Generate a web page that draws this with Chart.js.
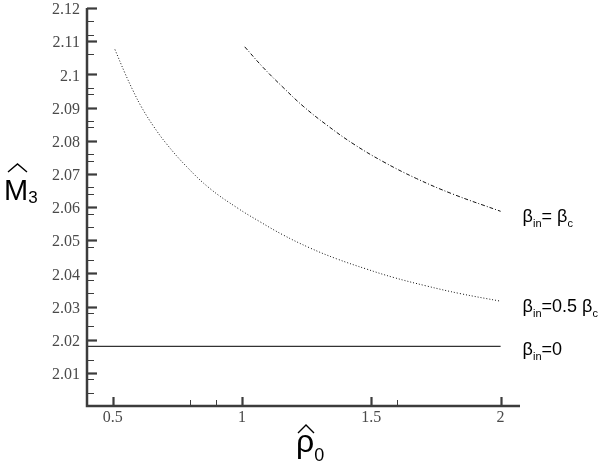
<!DOCTYPE html>
<html><head><meta charset="utf-8">
<script src="https://cdn.jsdelivr.net/npm/chart.js@4"></script>
<style>html,body{margin:0;padding:0;background:#fff}#w{width:600px;height:468px}</style>
</head><body><div id="w"><canvas id="c" width="600" height="468"></canvas></div>
<script>
// Data
const rhoHigh = [1.01, 1.081, 1.158, 1.236, 1.326, 1.429, 1.545, 1.674, 1.815, 2.0];
const mHigh   = [2.1083, 2.1021, 2.0961, 2.0904, 2.0848, 2.0791, 2.0737, 2.0686, 2.0639, 2.0587];
const rhoHalf = [0.508, 0.546, 0.578, 0.611, 0.656, 0.708, 0.785, 0.875, 0.984, 1.068, 1.158, 1.261, 1.365, 1.481, 1.584, 1.713, 1.843, 2.0];
const mHalf   = [2.1075, 2.1005, 2.0951, 2.0901, 2.0845, 2.0790, 2.0722, 2.0656, 2.0596, 2.0556, 2.0516, 2.0477, 2.0444, 2.0413, 2.0388, 2.0362, 2.0339, 2.0316];
const rhoZero = [0.4, 2.0];
const mZero   = [2.018, 2.018];
const xMajor = [0.5, 1, 1.5, 2];
const xMajorLabels = ['0.5', '1', '1.5', '2'];
const xMinor = [0.8, 0.9, 1.6];
const yMajor = [2.01, 2.02, 2.03, 2.04, 2.05, 2.06, 2.07, 2.08, 2.09, 2.1, 2.11, 2.12];
const yMajorLabels = ['2.01','2.02','2.03','2.04','2.05','2.06','2.07','2.08','2.09','2.1','2.11','2.12'];
const yMinor = [2.116, 2.112, 2.106, 2.096, 2.094, 2.086, 2.084, 2.076, 2.074, 2.066, 2.064, 2.058, 2.054, 2.048, 2.044, 2.038, 2.034, 2.028, 2.024, 2.014, 2.008, 2.004];

const pts = (xs, ys) => xs.map((x, i) => ({x, y: ys[i]}));

const AX = '#3c3c3c';
const SANS = '"Liberation Sans", Arial, sans-serif';
const SERIF = '"Liberation Serif", "DejaVu Serif", serif';

function rich(ctx, x, y, parts) {
  let cx = x;
  parts.forEach(p => {
    ctx.font = p.size + 'px ' + SANS;
    ctx.fillText(p.t, cx, y + (p.dy || 0));
    cx += ctx.measureText(p.t).width + (p.gap || 0);
  });
}
function hat(ctx, x0, x1, yb, h) {
  ctx.beginPath();
  ctx.moveTo(x0, yb); ctx.lineTo((x0 + x1) / 2, yb - h); ctx.lineTo(x1, yb);
  ctx.lineWidth = 1.4; ctx.strokeStyle = '#000'; ctx.stroke();
}

const axesPlugin = {
  id: 'tecAxes',
  afterDatasetsDraw(chart) {
    const ctx = chart.ctx, xs = chart.scales.x, ys = chart.scales.y;
    const L = xs.left, R = xs.right, T = ys.top, B = ys.bottom;
    ctx.save();
    ctx.strokeStyle = AX; ctx.fillStyle = AX;
    // axis lines
    ctx.lineWidth = 2.5;
    ctx.beginPath(); ctx.moveTo(L, T); ctx.lineTo(L, B); ctx.lineTo(R, B); ctx.stroke();
    // y ticks
    ctx.lineWidth = 2.2;
    yMajor.forEach(v => { const p = Math.round(ys.getPixelForValue(v)) + 0.5; ctx.beginPath(); ctx.moveTo(L, p); ctx.lineTo(L + 10, p); ctx.stroke(); });
    ctx.lineWidth = 1;
    yMinor.forEach(v => { const p = Math.round(ys.getPixelForValue(v)) + 0.5; ctx.beginPath(); ctx.moveTo(L, p); ctx.lineTo(L + 7, p); ctx.stroke(); });
    // x ticks
    ctx.lineWidth = 2.2;
    xMajor.forEach(v => { const p = Math.round(xs.getPixelForValue(v)) + 0.5; ctx.beginPath(); ctx.moveTo(p, B); ctx.lineTo(p, B - 9); ctx.stroke(); });
    ctx.lineWidth = 1;
    xMinor.forEach(v => { const p = Math.round(xs.getPixelForValue(v)) + 0.5; ctx.beginPath(); ctx.moveTo(p, B); ctx.lineTo(p, B - 6); ctx.stroke(); });
    // tick labels
    ctx.fillStyle = '#4a4a4a';
    ctx.font = '16px ' + SERIF;
    ctx.textAlign = 'right'; ctx.textBaseline = 'middle';
    yMajor.forEach((v, i) => ctx.fillText(yMajorLabels[i], L - 7, ys.getPixelForValue(v) + 2));
    ctx.textAlign = 'center'; ctx.textBaseline = 'top';
    xMajor.forEach((v, i) => ctx.fillText(xMajorLabels[i], xs.getPixelForValue(v), B + 4));
    // axis titles
    ctx.fillStyle = '#000'; ctx.textAlign = 'left'; ctx.textBaseline = 'alphabetic';
    rich(ctx, 4, 200, [{t: 'M', size: 29}, {t: '3', size: 17, dy: 3}]);
    hat(ctx, 8, 27, 172, 8);
    rich(ctx, 296, 452, [{t: '\u03C1', size: 32}, {t: '0', size: 18, dy: 9}]);
    hat(ctx, 298, 314, 433, 8);
    // curve labels anchored to the series ends
    const lx = xs.getPixelForValue(2) + 22;
    rich(ctx, lx, ys.getPixelForValue(mHigh[mHigh.length - 1]) + 11,
      [{t: '\u03B2', size: 18}, {t: 'in', size: 11, dy: 5}, {t: '= ', size: 18}, {t: '\u03B2', size: 18}, {t: 'c', size: 11, dy: 5}]);
    rich(ctx, lx, ys.getPixelForValue(mHalf[mHalf.length - 1]) + 11,
      [{t: '\u03B2', size: 18}, {t: 'in', size: 11, dy: 5}, {t: '=0.5 ', size: 18}, {t: '\u03B2', size: 18}, {t: 'c', size: 11, dy: 5}]);
    rich(ctx, lx, ys.getPixelForValue(mZero[mZero.length - 1]) + 9,
      [{t: '\u03B2', size: 18}, {t: 'in', size: 11, dy: 5}, {t: '=0', size: 18}]);
    ctx.restore();
  }
};

new Chart(document.getElementById('c'), {
  type: 'scatter',
  data: {
    datasets: [
      {label: 'beta_in = beta_c', data: pts(rhoHigh, mHigh), showLine: true, borderColor: '#111', borderWidth: 1, borderDash: [4, 2, 1, 2], pointRadius: 0, tension: 0.4},
      {label: 'beta_in = 0.5 beta_c', data: pts(rhoHalf, mHalf), showLine: true, borderColor: '#111', borderWidth: 1, borderDash: [1, 2], pointRadius: 0, tension: 0.4},
      {label: 'beta_in = 0', data: pts(rhoZero, mZero), showLine: true, borderColor: '#000', borderWidth: 1, pointRadius: 0}
    ]
  },
  options: {
    responsive: false, animation: false, devicePixelRatio: 1,
    layout: {padding: {left: 87, right: 80, top: 8, bottom: 62}},
    plugins: {legend: {display: false}, tooltip: {enabled: false}},
    scales: {
      x: {type: 'linear', min: 0.4, max: 2.075, display: false},
      y: {type: 'linear', min: 2.0, max: 2.12, display: false}
    }
  },
  plugins: [axesPlugin]
});
</script>
</body></html>
